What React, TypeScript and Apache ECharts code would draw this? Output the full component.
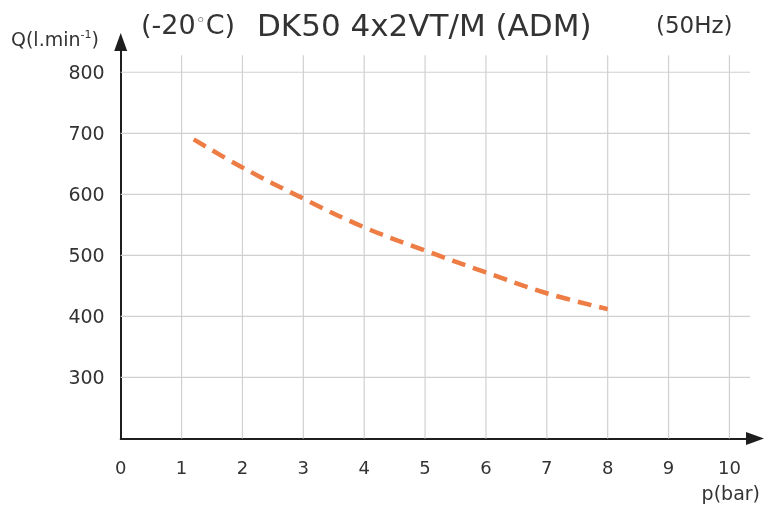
import React, { useEffect, useRef } from "react";
import * as echarts from "echarts";

// ---- data ----
const pressure = [1.2, 2, 3, 4, 5, 6, 7, 8];
const flow = [690, 644, 593, 546, 508, 472, 438, 412];
const xGridTicks = [1, 2, 3, 4, 5, 6, 7, 8, 9, 10];
const yGridTicks = [300, 400, 500, 600, 700, 800];
const xLabelValues = [0, 1, 2, 3, 4, 5, 6, 7, 8, 9, 10];
const yLabelValues = [300, 400, 500, 600, 700, 800];

const X_MIN = 0;
const X_MAX = 10.42;
const Y_MIN = 200;
const Y_MAX = 849.6;
const GRID_X_END = 10.34;
const GRID_Y_END = 828;

const FONT = "DejaVu Sans";
const TEXT = "#333333";

export default function App() {
  const ref = useRef<HTMLDivElement>(null);
  useEffect(() => {
    if (!ref.current) return;
    const chart = echarts.init(ref.current, null, { renderer: "svg" });
    const gridColor = "#d0d0d0";
    const gridSeries: any[] = [];
    xGridTicks.forEach((x) => {
      gridSeries.push({
        type: "line",
        data: [
          [x, Y_MIN],
          [x, GRID_Y_END],
        ],
        symbol: "none",
        silent: true,
        z: 1,
        lineStyle: { color: gridColor, width: 1.2 },
      });
    });
    yGridTicks.forEach((y) => {
      gridSeries.push({
        type: "line",
        data: [
          [X_MIN, y],
          [GRID_X_END, y],
        ],
        symbol: "none",
        silent: true,
        z: 1,
        lineStyle: { color: gridColor, width: 1.2 },
      });
    });

    chart.setOption({
      animation: false,
      grid: { left: 120.7, right: 10, top: 42, bottom: 75.5, containLabel: false },
      xAxis: {
        type: "value",
        min: X_MIN,
        max: X_MAX,
        interval: 1,
        axisLine: {
          show: true,
          symbol: ["none", "triangle"],
          symbolSize: [13, 18],
          lineStyle: { color: "#1e1e1e", width: 2 },
        },
        axisTick: { show: false },
        splitLine: { show: false },
        axisLabel: {
          margin: 20,
          fontFamily: FONT,
          fontSize: 18,
          color: TEXT,
          formatter: (v: number) => (xLabelValues.includes(v) ? String(v) : ""),
        },
      },
      yAxis: {
        type: "value",
        min: Y_MIN,
        max: Y_MAX,
        interval: 100,
        axisLine: {
          show: true,
          symbol: ["none", "triangle"],
          symbolSize: [13, 18],
          lineStyle: { color: "#1e1e1e", width: 2 },
        },
        axisTick: { show: false },
        splitLine: { show: false },
        axisLabel: {
          margin: 16,
          fontFamily: FONT,
          fontSize: 19,
          color: TEXT,
          formatter: (v: number) => (yLabelValues.includes(v) ? String(v) : ""),
        },
      },
      series: [
        ...gridSeries,
        {
          type: "line",
          data: pressure.map((p, i) => [p, flow[i]]),
          smooth: 0.4,
          symbol: "none",
          z: 5,
          lineStyle: { color: "#ED7D45", width: 4.5, type: [14, 8] },
        },
      ],
      graphic: [
        {
          type: "text",
          left: 141,
          top: 11,
          style: {
            text: "{a|(-20}{d|◦}{a|C)}",
            rich: {
              a: { fontFamily: FONT, fontSize: 27, fill: TEXT, color: TEXT },
              d: { fontFamily: FONT, fontSize: 17, fill: TEXT, color: TEXT, verticalAlign: "middle", padding: [0, 0, 9, 0] },
            },
          },
        },
        {
          type: "text",
          left: 257,
          top: 9,
          style: { text: "DK50 4x2VT/M (ADM)", font: `31px '${FONT}'`, fill: TEXT },
        },
        {
          type: "text",
          left: 656,
          top: 13,
          style: { text: "(50Hz)", font: `23px '${FONT}'`, fill: TEXT },
        },
        {
          type: "text",
          left: 11,
          top: 29,
          style: {
            text: "{a|Q(l.min}{s|-1}{a|)}",
            rich: {
              a: { fontFamily: FONT, fontSize: 19, fill: TEXT, color: TEXT },
              s: { fontFamily: FONT, fontSize: 11, fill: TEXT, color: TEXT, verticalAlign: "top", padding: [0, 0, 9, 0] },
            },
          },
        },
        {
          type: "text",
          right: 5,
          top: 483,
          style: { text: "p(bar)", font: `19px '${FONT}'`, fill: TEXT },
        },
      ],
    });
    return () => chart.dispose();
  }, []);
  return <div ref={ref} style={{ position: "fixed", left: 0, top: 0, width: 765, height: 514 }} />;
}
